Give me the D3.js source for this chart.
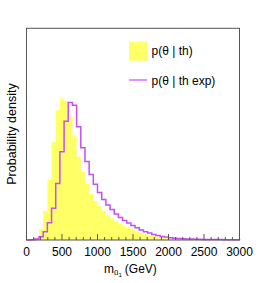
<!DOCTYPE html>
<html><head><meta charset="utf-8">
<script src="https://cdn.jsdelivr.net/npm/d3@7"></script>
<style>body{margin:0;background:#fff}svg{display:block}text{font-family:"Liberation Sans",Arial,sans-serif;fill:#000}</style>
</head><body>
<script>
// Histogram: 51 equal bins over 0-3000 GeV
const xRange = [0, 3000];
const nBins = 51;
// p(theta | th) — filled yellow (relative density, arb. units)
const thValues = [0,0.8,3,10.7,29,60,98,130,141.7,139.5,124,104,83,68,56,46,39,34,29.3,25,21.7,18.7,16.3,13.8,12,10.3,8.5,7,5.8,4.8,4,3.3,2.7,2,1.6,1.3,1.1,0.9,0.7,0.6,0.5,0.4,0.3,0.3,0.2,0.2,0.2,0.1,0.1,0.1,0.1];
// p(theta | th exp) — violet line
const thExpValues = [0,0.3,1,3.3,8.3,17.3,31.7,56.7,88.3,119,137.7,135,113.3,92.5,78.5,65.5,55.8,47.5,40.5,35,30.5,26,22.5,19.5,17,14.6,12.2,10,8.3,6.9,5.6,4.6,3.6,2.9,2.2,1.7,1.4,1.2,1,0.9,0.8,0.7,0.6,0.5,0.5,0.4,0.4,0.3,0.3,0.3,0.2];
const yMax = 212;
const xTickLabels = [0,500,1000,1500,2000,2500,3000];
const legendLabels = ["p(θ | th)", "p(θ | th exp)"];

const W = 266, H = 283;
const L = 26.5, R = 239.5, T = 28.3, B = 240;
const svg = d3.select("body").append("svg").attr("width", W).attr("height", H);
const x = d3.scaleLinear().domain(xRange).range([L, R]);
const y = d3.scaleLinear().domain([0, yMax]).range([B, T]);
const bw = (xRange[1] - xRange[0]) / nBins;

function stepPoints(vals) {
  const pts = [[xRange[0], 0]];
  vals.forEach((v, i) => { pts.push([i * bw, v]); pts.push([(i + 1) * bw, v]); });
  pts.push([xRange[1], 0]);
  return pts;
}
const line = d3.line().x(d => x(d[0])).y(d => y(d[1]));

svg.append("path").attr("d", line(stepPoints(thValues)) + "Z")
  .attr("fill", "#ffff66").attr("stroke", "none");
svg.append("path").attr("d", line(stepPoints(thExpValues)))
  .attr("fill", "none").attr("stroke", "#c94cf5").attr("stroke-width", 1.5);

// frame
svg.append("rect").attr("x", L).attr("y", T).attr("width", R - L).attr("height", B - T)
  .attr("fill", "none").attr("stroke", "#555").attr("stroke-width", 1);

// x axis ticks (inside)
const minor = d3.range(0, 3001, 100);
svg.append("g").selectAll("line").data(minor).join("line")
  .attr("x1", d => x(d)).attr("x2", d => x(d))
  .attr("y1", B).attr("y2", d => B - (d % 500 === 0 ? 6 : 3))
  .attr("stroke", "#555").attr("stroke-width", 1);
svg.append("g").selectAll("text").data(xTickLabels).join("text")
  .attr("x", d => x(d)).attr("y", 255.5).attr("text-anchor", "middle")
  .attr("font-size", 12).text(d => d);

// x title: m_{ũ1} (GeV)
const xt = svg.append("text").attr("x", 104).attr("y", 273).attr("font-size", 12);
xt.append("tspan").text("m");
xt.append("tspan").attr("font-size", 8).attr("dy", 2).text("ũ");
xt.append("tspan").attr("font-size", 6).attr("dy", 2).text("1");
xt.append("tspan").attr("font-size", 12).attr("dy", -4).attr("dx", 3).text("(GeV)");

// y title
svg.append("text").attr("transform", "translate(16,134) rotate(-90)")
  .attr("text-anchor", "middle").attr("font-size", 12.5).text("Probability density");

// legend
svg.append("rect").attr("x", 129).attr("y", 41.7).attr("width", 18.5).attr("height", 19)
  .attr("fill", "#ffff66");
svg.append("text").attr("x", 151.5).attr("y", 54.5).attr("font-size", 12).text(legendLabels[0]);
svg.append("line").attr("x1", 129).attr("x2", 147).attr("y1", 80).attr("y2", 80)
  .attr("stroke", "#c94cf5").attr("stroke-width", 1.2);
svg.append("text").attr("x", 151.5).attr("y", 84.5).attr("font-size", 12).text(legendLabels[1]);
</script>
</body></html>
